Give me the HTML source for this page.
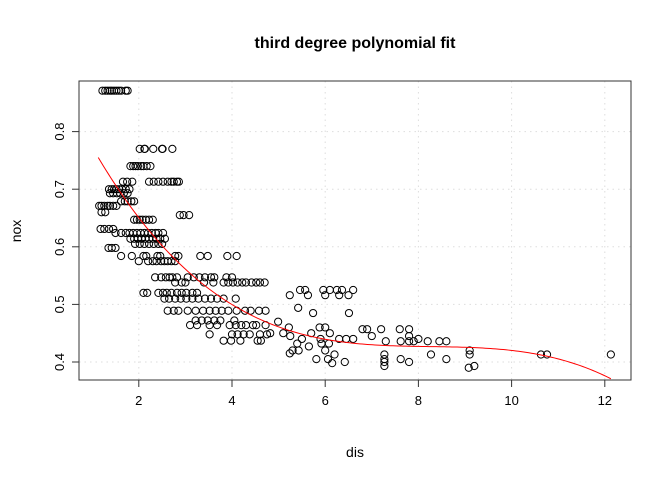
<!DOCTYPE html>
<html><head><meta charset="utf-8"><style>
body{margin:0;background:#fff}
svg{display:block;font-family:"Liberation Sans",Arial,sans-serif}
</style></head><body>
<svg id="chart" width="672" height="480">
<text x="355" y="48" text-anchor="middle" font-size="16" font-weight="bold">third degree polynomial fit</text>
<text x="355" y="457" text-anchor="middle" font-size="14">dis</text>
<text transform="translate(21,231) rotate(-90)" text-anchor="middle" font-size="14">nox</text>
<g id="grid"></g>
<g id="pts"></g>
<path id="fit" fill="none" stroke="#ff0000" stroke-width="1"/>
<rect x="79" y="81" width="552" height="299" fill="none" stroke="#333" stroke-width="1"/>
<g id="axes"></g>
</svg>
<script>
const xTicks=[2,4,6,8,10,12];
const yTicks=[0.4,0.5,0.6,0.7,0.8];
const fitCoef=[0.9341,-0.1821,0.02192,-0.000885];
const fitRange=[1.13,12.13];
const rows=[
[0.871,[1.22,1.28,1.33,1.38,1.42,1.47,1.52,1.57,1.62,1.72,1.76]],
[0.77,[2.02,2.12,2.13,2.31,2.5,2.51,2.72]],
[0.74,[1.82,1.88,1.93,1.98,2.05,2.1,2.17,2.25]],
[0.713,[1.66,1.75,1.86,2.22,2.32,2.42,2.52,2.62,2.7,2.75,2.82,2.86]],
[0.7,[1.36,1.42,1.47,1.52,1.58,1.64,1.72,1.8]],
[0.693,[1.38,1.45,1.53,1.6,1.68,1.76]],
[0.679,[1.62,1.7,1.76,1.84,1.9]],
[0.671,[1.15,1.2,1.26,1.33,1.38,1.45,1.52]],
[0.66,[1.2,1.28]],
[0.655,[2.88,2.96,3.08]],
[0.647,[1.9,1.96,2.02,2.08,2.15,2.22,2.3]],
[0.631,[1.18,1.26,1.36,1.45]],
[0.624,[1.5,1.62,1.72,1.8,1.88,1.96,2.04,2.12,2.2,2.28,2.36,2.42,2.52]],
[0.614,[1.82,1.9,1.98,2.06,2.14,2.22,2.3,2.38,2.46,2.56]],
[0.605,[1.92,2.02,2.12,2.22,2.32,2.42,2.5]],
[0.598,[1.35,1.42,1.5]],
[0.584,[1.62,1.85,2.1,2.16,2.4,2.46,2.78,2.85,3.32,3.48,3.9,4.1]],
[0.575,[2.0,2.2,2.3,2.38,2.48,2.55,2.62,2.7,2.78]],
[0.547,[2.35,2.48,2.58,2.66,2.72,2.82,3.05,3.18,3.3,3.42,3.55,3.62,3.88,4.0]],
[0.538,[2.78,2.92,3.0,3.4,3.6,3.82,3.92,4.02,4.12,4.22,4.3,4.42,4.52,4.6,4.7]],
[0.52,[2.1,2.18,2.42,2.52,2.6,2.7,2.82,2.92,3.02,3.15,3.25]],
[0.51,[2.55,2.65,2.78,2.9,3.02,3.15,3.28,3.42,3.55,3.68,3.82,4.08]],
[0.489,[2.62,2.75,2.85,3.05,3.22,3.38,3.52,3.65,3.78,3.92,4.1,4.28,4.4,4.58,4.72]],
[0.472,[3.22,3.35,3.48,3.62,3.75,4.05]],
[0.464,[3.1,3.25,3.52,3.68,3.95,4.08,4.2,4.3,4.45,4.52,4.72]],
[0.448,[3.52,4.0,4.12,4.25,4.38,4.6,4.75]],
[0.437,[3.82,3.98,4.18,4.55,4.62]],
[0.525,[5.46,5.57,5.96,6.1,6.25,6.36,6.6]],
[0.516,[5.24,5.63,6.0,6.3,6.5]],
[0.494,[5.42]],[0.485,[5.74,6.51]],
[0.47,[4.99]],[0.46,[5.22,5.88,6.0]],
[0.45,[4.82,5.1,5.7,6.1]],[0.445,[5.25,7.0,7.8]],
[0.44,[5.5,5.9,6.3,6.45,6.6,8.0]],
[0.457,[6.8,6.9,7.2,7.6,7.8]],
[0.436,[7.3,7.62,7.8,7.9,8.2,8.45,8.6]],
[0.432,[5.4,5.92,6.08]],[0.427,[5.65]],
[0.42,[5.3,5.43,6.0,9.1]],[0.415,[5.24]],
[0.413,[6.2,7.27,8.27,9.1,10.63,10.76,12.13]],
[0.405,[5.81,6.06,7.27,7.62,8.6]],
[0.4,[6.42,7.27,7.8]],[0.398,[6.15]],
[0.393,[7.27,9.2]],[0.39,[9.08]]
];
const NS='http://www.w3.org/2000/svg';
const L=79,R=631,T=81,B=380;
function sx(v){return 45.6+46.6*v;}
function sy(v){return 362-(v-0.4)*576;}
const grid=document.getElementById('grid'),axes=document.getElementById('axes');
function mk(tag,attrs,parent){const e=document.createElementNS(NS,tag);for(const k in attrs)e.setAttribute(k,attrs[k]);parent.appendChild(e);return e;}
xTicks.forEach(t=>{const x=sx(t);
const g=mk('line',{x1:x,x2:x,y1:T,y2:B,stroke:'#ddd','stroke-dasharray':'1.5,4'},grid);


const tk=mk('line',{x1:x,x2:x,y1:B,y2:B+7,stroke:'#333'},axes);


const lb=mk('text',{x:x,y:B+25,'text-anchor':'middle','font-size':'13'},axes);lb.textContent=t;

});
yTicks.forEach(t=>{const y=sy(t);
const g=mk('line',{x1:L,x2:R,y1:y,y2:y,stroke:'#ddd','stroke-dasharray':'1.5,4'},grid);


const tk=mk('line',{x1:L-7,x2:L,y1:y,y2:y,stroke:'#333'},axes);


const lb=mk('text',{transform:`translate(${L-15},${y}) rotate(-90)`,'text-anchor':'middle','font-size':'13'},axes);lb.textContent=t.toFixed(1);

});
const pts=document.getElementById('pts');
rows.forEach(r=>r[1].forEach(d=>{const c=mk('circle',{cx:sx(d),cy:sy(r[0]),r:3.6,fill:'none',stroke:'#000','stroke-width':'1'},pts);

}));
let p='';for(let i=0;i<=200;i++){const d=fitRange[0]+(fitRange[1]-fitRange[0])*i/200;
const v=fitCoef[0]+fitCoef[1]*d+fitCoef[2]*d*d+fitCoef[3]*d*d*d;
p+=(i?'L':'M')+sx(d).toFixed(2)+','+sy(v).toFixed(2);}
document.getElementById('fit').setAttribute('d',p);
</script>
</body></html>
